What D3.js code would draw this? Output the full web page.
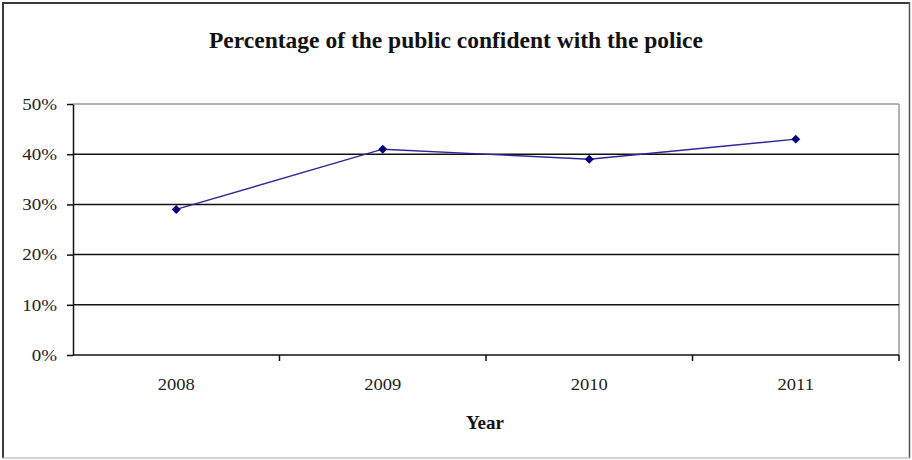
<!DOCTYPE html>
<html>
<head>
<meta charset="utf-8">
<script src="https://cdn.jsdelivr.net/npm/d3@7"></script>
<style>
  html, body { margin: 0; padding: 0; background: #fff; }
  svg { display: block; }
  text { font-family: "Liberation Serif", "Times New Roman", serif; }
</style>
</head>
<body>
<svg id="chart" width="912" height="460"></svg>
<script>
const years = ["2008", "2009", "2010", "2011"];
const confidence = [0.29, 0.41, 0.39, 0.43];
const yTicks = [0, 0.1, 0.2, 0.3, 0.4, 0.5];
const titleText = "Percentage of the public confident with the police";
const xAxisTitle = "Year";

const W = 912, H = 460;
const plot = { left: 73, right: 899, top: 104, bottom: 355 };

const svg = d3.select("#chart");

// outer frame
svg.append("line").attr("x1", 2).attr("x2", 910).attr("y1", 3).attr("y2", 3).attr("stroke", "#3a3a3a").attr("stroke-width", 2);
svg.append("line").attr("x1", 3).attr("x2", 3).attr("y1", 2).attr("y2", 458).attr("stroke", "#3a3a3a").attr("stroke-width", 2);
svg.append("line").attr("x1", 909.5).attr("x2", 909.5).attr("y1", 2).attr("y2", 458).attr("stroke", "#555").attr("stroke-width", 1.5);
svg.append("line").attr("x1", 2).attr("x2", 910).attr("y1", 458).attr("y2", 458).attr("stroke", "#aaa").attr("stroke-width", 1);

const x = d3.scaleBand().domain(years).range([plot.left, plot.right]).padding(0);
const y = d3.scaleLinear().domain([0, 0.5]).range([plot.bottom, plot.top]);

// plot border top/right (gray)
svg.append("line").attr("x1", plot.left).attr("x2", plot.right).attr("y1", plot.top).attr("y2", plot.top)
  .attr("stroke", "#9a9a9a").attr("stroke-width", 1.5);
svg.append("line").attr("x1", plot.right).attr("x2", plot.right).attr("y1", plot.top).attr("y2", plot.bottom)
  .attr("stroke", "#9a9a9a").attr("stroke-width", 1.5);

// gridlines
svg.append("g").selectAll("line").data(yTicks.filter(v => v > 0 && v < 0.5)).join("line")
  .attr("x1", plot.left).attr("x2", plot.right)
  .attr("y1", d => y(d)).attr("y2", d => y(d))
  .attr("stroke", "#111").attr("stroke-width", 1.5);

// y axis
const yAxis = svg.append("g").attr("transform", `translate(${plot.left},0)`)
  .call(d3.axisLeft(y).tickValues(yTicks).tickFormat(d3.format(".0%")).tickSize(6).tickPadding(10).tickSizeOuter(0));
yAxis.attr("font-family", null);
yAxis.select(".domain").attr("stroke", "#111").attr("stroke-width", 1.5);
yAxis.selectAll(".tick line").attr("stroke", "#111").attr("stroke-width", 1.5);
yAxis.selectAll(".tick text").attr("font-size", 16.5).attr("fill", "#222")
  .each(function() { const w = this.getComputedTextLength(); d3.select(this).attr("textLength", w * 1.15).attr("lengthAdjust", "spacingAndGlyphs"); });

// x axis line
svg.append("line").attr("x1", plot.left).attr("x2", plot.right).attr("y1", plot.bottom).attr("y2", plot.bottom)
  .attr("stroke", "#111").attr("stroke-width", 1.5);
// x boundary ticks
const boundaries = years.map(d => x(d)).concat([x(years[years.length - 1]) + x.bandwidth()]).slice(1);
svg.append("g").selectAll("line").data(boundaries).join("line")
  .attr("x1", d => d).attr("x2", d => d).attr("y1", plot.bottom).attr("y2", plot.bottom + 6)
  .attr("stroke", "#111").attr("stroke-width", 1.5);
// x labels
const xAxis = svg.append("g").attr("transform", `translate(0,${plot.bottom})`)
  .call(d3.axisBottom(x).tickSize(0).tickPadding(23));
xAxis.attr("font-family", null);
xAxis.select(".domain").remove();
xAxis.selectAll(".tick text").attr("font-size", 17.5).attr("fill", "#222")
  .each(function() { const w = this.getComputedTextLength(); d3.select(this).attr("textLength", w * 1.06).attr("lengthAdjust", "spacingAndGlyphs"); });

// line
const cx = d => x(d) + x.bandwidth() / 2;
const pts = years.map((d, i) => [cx(d), y(confidence[i])]);
svg.append("path").attr("d", d3.line()(pts)).attr("fill", "none").attr("stroke", "#2a2a96").attr("stroke-width", 1.4);
svg.append("g").selectAll("path").data(pts).join("path")
  .attr("transform", d => `translate(${d[0]},${d[1]}) rotate(45)`)
  .attr("d", d3.symbol(d3.symbolSquare, 40))
  .attr("fill", "#000080");

// title
svg.append("text").attr("x", W / 2).attr("y", 48).attr("text-anchor", "middle")
  .attr("font-size", 24).attr("font-weight", "bold").attr("fill", "#111")
  .attr("textLength", 494).attr("lengthAdjust", "spacingAndGlyphs")
  .text(titleText);

// x axis title
svg.append("text").attr("x", (plot.left + plot.right) / 2 - 1).attr("y", 429).attr("text-anchor", "middle")
  .attr("font-size", 19).attr("font-weight", "bold").attr("fill", "#111")
  .text(xAxisTitle);
</script>
</body>
</html>
